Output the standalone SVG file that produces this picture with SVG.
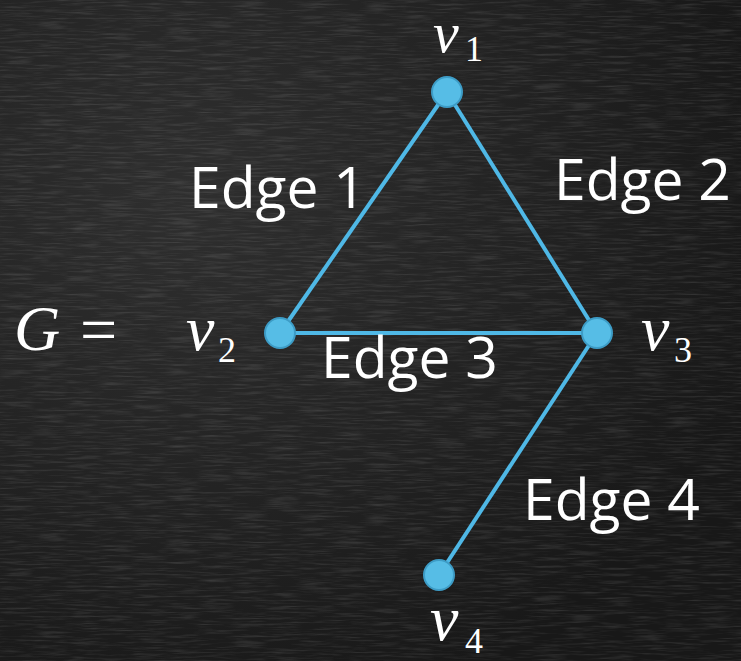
<svg xmlns="http://www.w3.org/2000/svg" width="741" height="661" viewBox="0 0 741 661">
<defs>
<radialGradient id="bg1" cx="0.25" cy="0.3" r="0.8">
<stop offset="0" stop-color="#2f2f2f"/>
<stop offset="0.6" stop-color="#222"/>
<stop offset="1" stop-color="#181818"/>
</radialGradient>
<filter id="grain" x="0" y="0" width="100%" height="100%">
<feTurbulence type="fractalNoise" baseFrequency="0.03 0.5" numOctaves="3" seed="4"/>
<feColorMatrix type="matrix" values="0 0 0 0 1  0 0 0 0 1  0 0 0 0 1  0 0 0 0.5 -0.22"/>
</filter>
<style>
.edge{stroke:#4fb8e6;stroke-width:4;fill:none}
.node{fill:#56bde6;stroke:#3d9cc6;stroke-width:2}
.lbl{font-family:"Open Sans","Noto Sans",sans-serif;font-size:57px;fill:#fff}
.math{font-family:"Liberation Serif","DejaVu Serif",serif;font-style:italic;font-size:64px;fill:#fff}
.sub{font-family:"Liberation Serif","DejaVu Serif",serif;font-size:36px;fill:#fff}
.eq{font-family:"Liberation Serif","DejaVu Serif",serif;font-size:66px;fill:#fff}
</style>
</defs>
<rect width="741" height="661" fill="url(#bg1)"/>
<rect width="741" height="661" filter="url(#grain)" opacity="0.5"/>
<g id="connectors">
<line class="edge" x1="447" y1="92" x2="280" y2="333"/>
<line class="edge" x1="447" y1="92" x2="597" y2="333"/>
<line class="edge" x1="280" y1="333" x2="597" y2="333"/>
<line class="edge" x1="597" y1="333" x2="439" y2="575"/>
</g>
<g id="edge-labels">
<text class="lbl" x="189" y="208">Edge 1</text>
<text class="lbl" x="554" y="200">Edge 2</text>
<text class="lbl" x="321" y="378">Edge 3</text>
<text class="lbl" x="523" y="520">Edge 4</text>
</g>
<g id="v1"><circle class="node" cx="447" cy="92" r="15"/><text class="math" x="433" y="52" style="font-size:58px">v</text><text class="sub" x="465" y="61">1</text></g>
<g id="v2"><circle class="node" cx="280" cy="333" r="15"/><text class="math" x="186" y="350">v</text><text class="sub" x="218" y="362">2</text></g>
<g id="v3"><circle class="node" cx="597" cy="333" r="15"/><text class="math" x="641" y="350">v</text><text class="sub" x="674" y="362">3</text></g>
<g id="v4"><circle class="node" cx="439" cy="575" r="15"/><text class="math" x="430" y="640">v</text><text class="sub" x="465" y="653">4</text></g>
<g id="G-label"><text class="math" x="14" y="350">G</text><text class="eq" x="80" y="352">=</text></g>
</svg>
